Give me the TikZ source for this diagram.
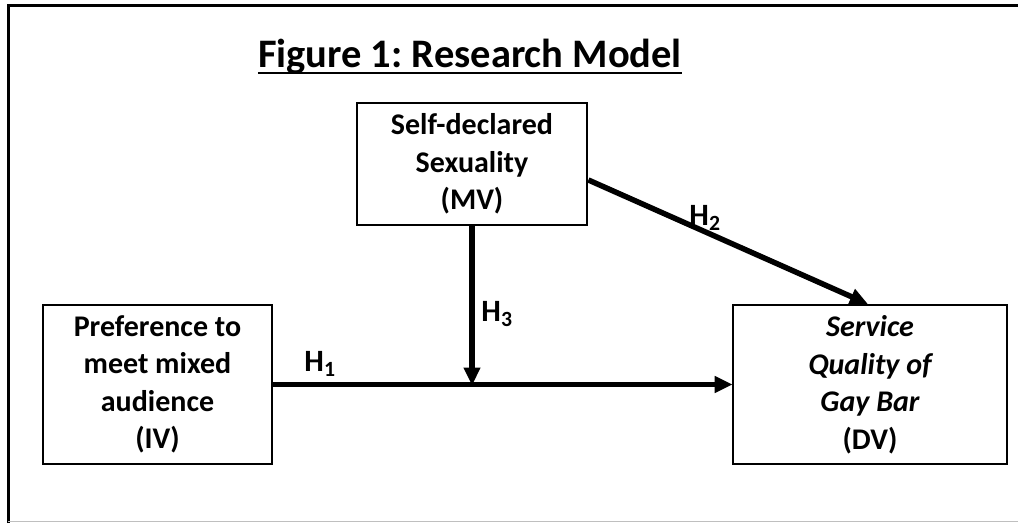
\documentclass[tikz,border=0pt]{standalone}
\usepackage{fontspec}
\setmainfont{Carlito}
\frenchspacing
\usetikzlibrary{arrows.meta}
\tikzset{
  box/.style={draw=black, line width=2.8pt, fill=white, align=center, inner sep=0pt,
    font=\fontsize{30}{37.5}\selectfont\bfseries},
  arr/.style={line width=5.5pt, -{Triangle[length=18pt,width=16pt]}, shorten >=-1pt},
  hlab/.style={font=\fontsize{31}{31}\selectfont\bfseries, inner sep=0pt}
}
\begin{document}
\begin{tikzpicture}[x=1pt,y=-1pt]
\useasboundingbox (0,0) rectangle (1018,523);
% outer frame
\draw[line width=3pt, black] (8,523) -- (8,5) -- (1018,5);
\draw[line width=1.5pt, black!25] (8,521.5) -- (1018,521.5);
% title
\node[anchor=base, inner sep=0pt, font=\fontsize{40.5}{40.5}\selectfont\bfseries] (title) at (470,67) {Figure 1: Research Model};
\draw[line width=2.8pt] ([yshift=-6pt]title.base west) -- ([yshift=-6pt]title.base east);
% boxes
\node[box, minimum width=230pt, minimum height=122pt] (MV) at (472,164)
  {Self-declared\\Sexuality\\(MV)};
\node[box, minimum width=229pt, minimum height=159pt] (IV) at (157.5,384.5)
  {Preference to\\meet mixed\\audience\\(IV)};
\node[box, minimum width=274pt, minimum height=159pt] (DV) at (870,384.5)
  {\itshape Service\\\itshape Quality of\\\itshape Gay Bar\\(DV)};
% connectors
\coordinate (J) at (472,384.5);
\draw[arr] (IV.east) -- (DV.west);
\draw[arr] (MV.south) -- (J);
\draw[arr] ([yshift=-16pt]MV.east) -- ([xshift=-3pt]DV.north);
% labels
\node[hlab] (h1) at (320,364) {H\textsubscript{1}};
\node[hlab] (h3) at (497,314) {H\textsubscript{3}};
\node[hlab] (h2) at (705,218) {H\textsubscript{2}};
\end{tikzpicture}
\end{document}
